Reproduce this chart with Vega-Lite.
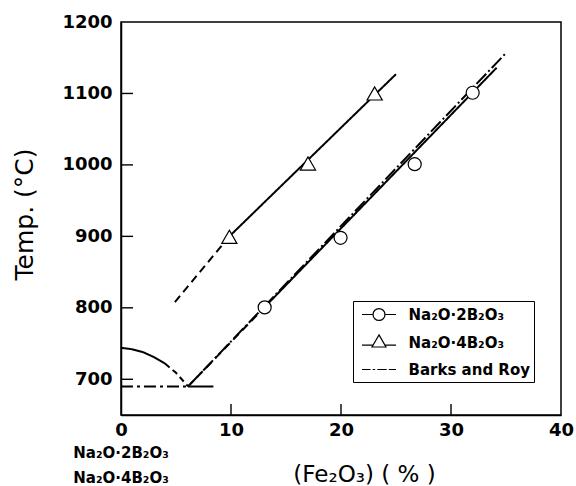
{
  "$schema": "https://vega.github.io/schema/vega-lite/v6.json",
  "width": 440,
  "height": 393,
  "autosize": "none",
  "padding": {"left": 121, "top": 22, "right": 15, "bottom": 71},
  "background": "white",
  "config": {
    "view": {"stroke": "black", "strokeWidth": 1.5},
    "font": "DejaVu Sans"
  },
  "datasets": {
    "curves": [
      {"seg": "Na₂O·4B₂O₃ extrapolated", "kind": "extrapolated", "x": 4.9, "y": 808},
      {"seg": "Na₂O·4B₂O₃ extrapolated", "kind": "extrapolated", "x": 9.85, "y": 900},
      {"seg": "Na₂O·4B₂O₃", "kind": "measured", "x": 9.85, "y": 900},
      {"seg": "Na₂O·4B₂O₃", "kind": "measured", "x": 25.0, "y": 1127},
      {"seg": "Na₂O·2B₂O₃ extrapolated", "kind": "extrapolated", "x": 6.1, "y": 690},
      {"seg": "Na₂O·2B₂O₃ extrapolated", "kind": "extrapolated", "x": 13.06, "y": 801},
      {"seg": "Na₂O·2B₂O₃", "kind": "measured", "x": 13.06, "y": 801},
      {"seg": "Na₂O·2B₂O₃", "kind": "measured", "x": 34.15, "y": 1136},
      {"seg": "Barks and Roy", "kind": "Barks and Roy", "x": 6.1, "y": 690},
      {"seg": "Barks and Roy", "kind": "Barks and Roy", "x": 34.9, "y": 1155},
      {"seg": "liquidus", "kind": "liquidus", "x": 0, "y": 744},
      {"seg": "liquidus", "kind": "liquidus", "x": 1, "y": 742},
      {"seg": "liquidus", "kind": "liquidus", "x": 2, "y": 738},
      {"seg": "liquidus", "kind": "liquidus", "x": 3, "y": 731},
      {"seg": "liquidus", "kind": "liquidus", "x": 4, "y": 722},
      {"seg": "liquidus extrapolated", "kind": "liquidus extrapolated", "x": 4, "y": 722},
      {"seg": "liquidus extrapolated", "kind": "liquidus extrapolated", "x": 5, "y": 709},
      {"seg": "liquidus extrapolated", "kind": "liquidus extrapolated", "x": 6.1, "y": 690},
      {"seg": "eutectic extrapolated", "kind": "eutectic extrapolated", "x": 0, "y": 690},
      {"seg": "eutectic extrapolated", "kind": "eutectic extrapolated", "x": 6.1, "y": 690},
      {"seg": "eutectic", "kind": "eutectic", "x": 6.1, "y": 690},
      {"seg": "eutectic", "kind": "eutectic", "x": 8.4, "y": 690}
    ],
    "measurements": [
      {"series": "Na₂O·2B₂O₃", "x": 13.06, "y": 800.6},
      {"series": "Na₂O·2B₂O₃", "x": 19.96, "y": 898},
      {"series": "Na₂O·2B₂O₃", "x": 26.7, "y": 1001},
      {"series": "Na₂O·2B₂O₃", "x": 31.97, "y": 1101},
      {"series": "Na₂O·4B₂O₃", "x": 9.85, "y": 899.4},
      {"series": "Na₂O·4B₂O₃", "x": 17.0, "y": 1002},
      {"series": "Na₂O·4B₂O₃", "x": 23.06, "y": 1100}
    ],
    "endmembers": [
      {"x": 0, "compounds": ["Na₂O·2B₂O₃", "Na₂O·4B₂O₃"]}
    ],
    "xticks": [{"x": 10}, {"x": 20}, {"x": 30}],
    "yticks": [{"y": 700}, {"y": 800}, {"y": 900}, {"y": 1000}, {"y": 1100}]
  },
  "layer": [
    {
      "data": {"name": "curves"},
      "mark": {"type": "line", "color": "black"},
      "encoding": {
        "x": {
          "field": "x", "type": "quantitative",
          "scale": {"domain": [0, 40], "nice": false, "zero": false},
          "axis": {
            "orient": "bottom", "zindex": 2,
            "values": [0, 10, 20, 30, 40],
            "ticks": false, "grid": false,
            "domainColor": "black", "domainWidth": 1.5,
            "labelPadding": 6,
            "labelFont": "DejaVu Sans", "labelFontWeight": "bold", "labelFontSize": 18,
            "labelColor": "black", "labelFlush": false, "labelOverlap": false,
            "title": "(Fe₂O₃)  ( % )",
            "titleFont": "DejaVu Sans", "titleFontWeight": "normal", "titleFontSize": 23,
            "titleColor": "black",
            "titleX": 243, "titleY": 66, "titleAlign": "center", "titleBaseline": "alphabetic"
          }
        },
        "y": {
          "field": "y", "type": "quantitative",
          "scale": {"domain": [650, 1200], "nice": false, "zero": false},
          "axis": {
            "orient": "left", "zindex": 2,
            "values": [700, 800, 900, 1000, 1100, 1200],
            "format": "d",
            "ticks": false, "grid": false,
            "domainColor": "black", "domainWidth": 1.5,
            "labelPadding": 9,
            "labelFont": "DejaVu Sans", "labelFontWeight": "bold", "labelFontSize": 18,
            "labelColor": "black", "labelFlush": false, "labelOverlap": false,
            "title": "Temp. (°C)",
            "titleFont": "DejaVu Sans", "titleFontWeight": "normal", "titleFontSize": 25,
            "titleColor": "black",
            "titleX": -89, "titleY": 192, "titleAngle": -90, "titleAlign": "center", "titleBaseline": "alphabetic"
          }
        },
        "detail": {"field": "seg"},
        "strokeDash": {
          "field": "kind", "type": "nominal",
          "scale": {
            "domain": ["measured", "extrapolated", "Barks and Roy", "liquidus", "liquidus extrapolated", "eutectic extrapolated", "eutectic"],
            "range": [[1, 0], [8, 5], [14, 3, 2, 3], [1, 0], [6, 4], [12, 4, 3, 4], [1, 0]]
          },
          "legend": null
        },
        "strokeWidth": {
          "field": "kind", "type": "nominal",
          "scale": {
            "domain": ["measured", "extrapolated", "Barks and Roy", "liquidus", "liquidus extrapolated", "eutectic extrapolated", "eutectic"],
            "range": [2, 2, 0.9, 0.9, 0.9, 1.8, 2]
          },
          "legend": null
        }
      }
    },
    {
      "data": {"name": "xticks"},
      "mark": {"type": "tick", "orient": "vertical", "size": 22, "thickness": 1.4, "color": "black", "opacity": 1, "clip": true},
      "encoding": {
        "x": {"field": "x", "type": "quantitative"},
        "y": {"datum": 650, "type": "quantitative"}
      }
    },
    {
      "data": {"name": "yticks"},
      "mark": {"type": "tick", "orient": "horizontal", "size": 24, "thickness": 1.4, "color": "black", "opacity": 1, "clip": true},
      "encoding": {
        "x": {"datum": 0, "type": "quantitative"},
        "y": {"field": "y", "type": "quantitative"}
      }
    },
    {
      "data": {"name": "measurements"},
      "mark": {"type": "point", "filled": true, "fill": "white", "stroke": "black", "strokeWidth": 1.2, "opacity": 1},
      "encoding": {
        "x": {"field": "x", "type": "quantitative"},
        "y": {"field": "y", "type": "quantitative"},
        "shape": {
          "field": "series", "type": "nominal",
          "scale": {"domain": ["Na₂O·2B₂O₃", "Na₂O·4B₂O₃"], "range": ["circle", "triangle-up"]},
          "legend": null
        },
        "size": {
          "field": "series", "type": "nominal",
          "scale": {"domain": ["Na₂O·2B₂O₃", "Na₂O·4B₂O₃"], "range": [169, 230]},
          "legend": null
        }
      }
    },
    {
      "data": {"name": "measurements"},
      "transform": [{"filter": "false"}],
      "mark": {"type": "point", "filled": false, "stroke": "black", "strokeWidth": 1.2, "opacity": 1},
      "encoding": {
        "x": {"field": "x", "type": "quantitative"},
        "y": {"field": "y", "type": "quantitative"},
        "shape": {
          "field": "series", "type": "nominal",
          "scale": {
            "domain": ["Na₂O·2B₂O₃", "Na₂O·4B₂O₃", "Barks and Roy"],
            "range": [
              "M-2,0H-0.7M0.7,0H2M0.7,0A0.7,0.7 0 1,1 -0.7,0A0.7,0.7 0 1,1 0.7,0",
              "M-2,0.3H-0.69M0.69,0.3H2M0,-0.9L0.82,0.53L-0.82,0.53Z",
              "M-2,0H-1M-0.75,0H-0.45M-0.2,0H0.9M1.15,0H2"
            ]
          },
          "legend": {
            "orient": "none", "legendX": 232, "legendY": 279,
            "title": null,
            "strokeColor": "black", "fillColor": "white", "padding": 4,
            "symbolSize": 289, "symbolStrokeWidth": 1.2,
            "symbolStrokeColor": "black", "symbolFillColor": "white",
            "symbolOffset": 12.5, "labelOffset": 20,
            "rowPadding": 9,
            "labelFont": "DejaVu Sans", "labelFontWeight": "bold", "labelFontSize": 15,
            "labelColor": "black"
          }
        }
      }
    },
    {
      "data": {"name": "endmembers"},
      "mark": {
        "type": "text", "font": "DejaVu Sans", "fontWeight": "bold", "fontSize": 15,
        "color": "black", "align": "center", "baseline": "top", "lineHeight": 25,
        "dy": 31
      },
      "encoding": {
        "x": {"field": "x", "type": "quantitative"},
        "y": {"datum": 650, "type": "quantitative"},
        "text": {"field": "compounds"}
      }
    }
  ],
  "resolve": {"scale": {"shape": "independent", "size": "independent"}}
}
